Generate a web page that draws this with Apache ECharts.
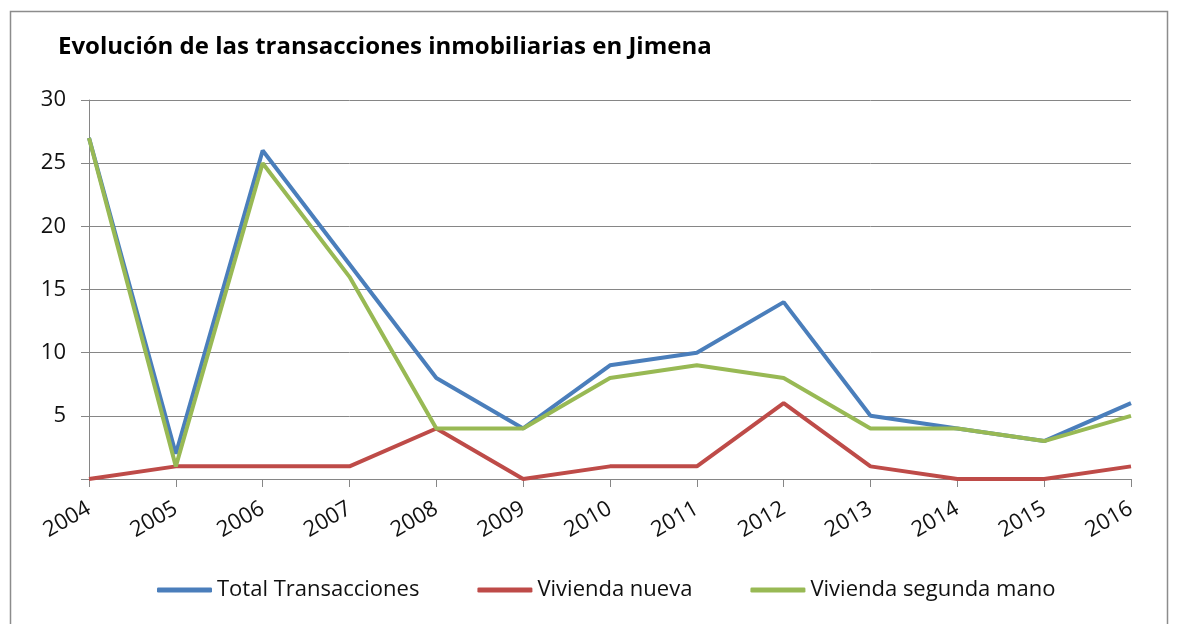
<!DOCTYPE html>
<html>
<head>
<meta charset="utf-8">
<script src="https://cdn.jsdelivr.net/npm/echarts@6/dist/echarts.min.js"></script>
<style>
  html, body { margin: 0; padding: 0; background: #fff; }
  #chart { width: 1180px; height: 624px; }
</style>
</head>
<body>
<div id="chart"></div>
<script>
// datos
var years = ['2004', '2005', '2006', '2007', '2008', '2009', '2010', '2011', '2012', '2013', '2014', '2015', '2016'];
var totalTransacciones = [27, 2, 26, 17, 8, 4, 9, 10, 14, 5, 4, 3, 6];
var viviendaNueva = [0, 1, 1, 1, 4, 0, 1, 1, 6, 1, 0, 0, 1];
var viviendaSegunda = [27, 1, 25, 16, 4, 4, 8, 9, 8, 4, 4, 3, 5];

var fontFam = '"Open Sans", "DejaVu Sans", sans-serif';

var myChart = echarts.init(document.getElementById('chart'), null, {renderer: 'canvas'});

function serie (name, data, color) {
	return {
		name: name,
		type: 'line',
		data: data,
		symbol: 'none',
		lineStyle: { width: 4, color: color },
		itemStyle: { color: color }
	};
}

var option = {
	animation: false,
	backgroundColor: '#fff',
	title: {
		text: 'Evolución de las transacciones inmobiliarias en Jimena',
		left: 53,
		top: 30,
		textStyle: { fontFamily: fontFam, fontSize: 24, fontWeight: 'bold', color: '#000' }
	},
	graphic: [{
		type: 'rect',
		shape: { x: 10.5, y: 11.5, width: 1157, height: 630 },
		style: { fill: 'none', stroke: '#8c8c8c', lineWidth: 1.5 },
		silent: true
	}],
	legend: {
		bottom: 18,
		left: 152,
		icon: 'roundRect',
		itemWidth: 55,
		itemHeight: 5,
		itemGap: 58,
		textStyle: { fontFamily: fontFam, fontSize: 22, color: '#111' },
		data: ['Total Transacciones', 'Vivienda nueva', 'Vivienda segunda mano']
	},
	grid: { left: 89, right: 49, top: 100, bottom: 145 },
	xAxis: {
		type: 'category',
		boundaryGap: false,
		data: years,
		axisLine: { lineStyle: { color: '#868686', width: 1 } },
		axisTick: { show: true, length: 8, alignWithLabel: true, lineStyle: { color: '#868686' } },
		axisLabel: { rotate: 30, margin: 28, fontFamily: fontFam, fontSize: 22, color: '#111' }
	},
	yAxis: {
		type: 'value',
		min: 0,
		max: 30,
		interval: 5,
		axisLine: { show: true, lineStyle: { color: '#868686', width: 1 } },
		axisTick: { show: true, length: 8, lineStyle: { color: '#868686' } },
		splitLine: { lineStyle: { color: '#868686', width: 1 } },
		axisLabel: {
			margin: 23,
			fontFamily: fontFam, fontSize: 22, color: '#111',
			formatter: function (v) { return v === 0 ? '' : v; }
		}
	},
	series: [
		serie('Total Transacciones', totalTransacciones, '#4a7ebb'),
		serie('Vivienda nueva', viviendaNueva, '#be4b48'),
		serie('Vivienda segunda mano', viviendaSegunda, '#98b954')
	]
};

myChart.setOption(option, true);
</script>
</body>
</html>
